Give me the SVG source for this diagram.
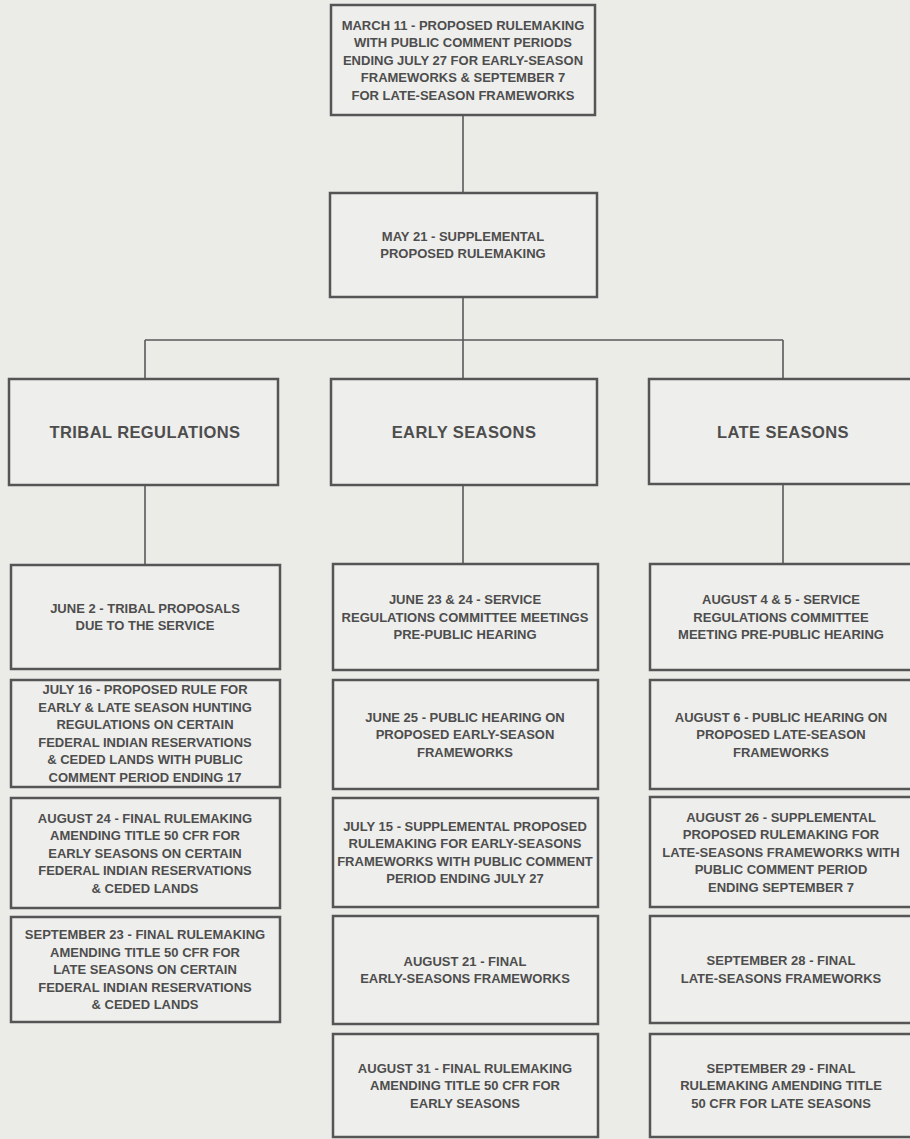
<svg xmlns="http://www.w3.org/2000/svg" width="910" height="1139" viewBox="0 0 910 1139">
<style>
.bg{fill:#ebebe8}
.box{fill:#eeeeec;stroke:#555555;stroke-width:2.5}
.con{fill:none;stroke:#5a5a5a;stroke-width:1.6}
text{font-family:"Liberation Sans",Arial,sans-serif;font-weight:bold;fill:#4d4d4d;text-anchor:middle}
.t{font-size:13px}
.h{font-size:16.5px;letter-spacing:0.4px}
</style>
<rect class="bg" x="0" y="0" width="910" height="1139"/>
<g id="connectors">
<path class="con" d="M463 115V193M463 297V379M145 340H783M145 340V379M783 340V379M145 485V565M463 485V564M783 484V564"/>
</g>
<g id="n-march11">
<rect class="box" x="331" y="5" width="264" height="110"/>
<text class="t"><tspan x="463" y="29.5">MARCH 11 - PROPOSED RULEMAKING</tspan><tspan x="463" y="47">WITH PUBLIC COMMENT PERIODS</tspan><tspan x="463" y="64.5">ENDING JULY 27 FOR EARLY-SEASON</tspan><tspan x="463" y="82">FRAMEWORKS &amp; SEPTEMBER 7</tspan><tspan x="463" y="99.5">FOR LATE-SEASON FRAMEWORKS</tspan></text>
</g>
<g id="n-may21">
<rect class="box" x="330" y="193" width="267" height="104"/>
<text class="t"><tspan x="463" y="240.75">MAY 21 - SUPPLEMENTAL</tspan><tspan x="463" y="258.25">PROPOSED RULEMAKING</tspan></text>
</g>
<g id="h-tribal">
<rect class="box" x="9" y="379" width="269" height="106"/>
<text class="h" x="145" y="438">TRIBAL REGULATIONS</text>
</g>
<g id="h-early">
<rect class="box" x="331" y="379" width="266" height="106"/>
<text class="h" x="464" y="438">EARLY SEASONS</text>
</g>
<g id="h-late">
<rect class="box" x="649" y="379" width="275" height="105"/>
<text class="h" x="783" y="438">LATE SEASONS</text>
</g>
<g id="t1">
<rect class="box" x="11" y="565" width="269" height="104"/>
<text class="t"><tspan x="145" y="612.75">JUNE 2 - TRIBAL PROPOSALS</tspan><tspan x="145" y="630.25">DUE TO THE SERVICE</tspan></text>
</g>
<g id="t2">
<rect class="box" x="11" y="680" width="269" height="107"/>
<text class="t"><tspan x="145" y="694.25">JULY 16 - PROPOSED RULE FOR</tspan><tspan x="145" y="711.75">EARLY &amp; LATE SEASON HUNTING</tspan><tspan x="145" y="729.25">REGULATIONS ON CERTAIN</tspan><tspan x="145" y="746.75">FEDERAL INDIAN RESERVATIONS</tspan><tspan x="145" y="764.25">&amp; CEDED LANDS WITH PUBLIC</tspan><tspan x="145" y="781.75">COMMENT PERIOD ENDING 17</tspan></text>
</g>
<g id="t3">
<rect class="box" x="11" y="798" width="269" height="110"/>
<text class="t"><tspan x="145" y="822.5">AUGUST 24 - FINAL RULEMAKING</tspan><tspan x="145" y="840">AMENDING TITLE 50 CFR FOR</tspan><tspan x="145" y="857.5">EARLY SEASONS ON CERTAIN</tspan><tspan x="145" y="875">FEDERAL INDIAN RESERVATIONS</tspan><tspan x="145" y="892.5">&amp; CEDED LANDS</tspan></text>
</g>
<g id="t4">
<rect class="box" x="11" y="917" width="269" height="105"/>
<text class="t"><tspan x="145" y="939">SEPTEMBER 23 - FINAL RULEMAKING</tspan><tspan x="145" y="956.5">AMENDING TITLE 50 CFR FOR</tspan><tspan x="145" y="974">LATE SEASONS ON CERTAIN</tspan><tspan x="145" y="991.5">FEDERAL INDIAN RESERVATIONS</tspan><tspan x="145" y="1009">&amp; CEDED LANDS</tspan></text>
</g>
<g id="e1">
<rect class="box" x="333" y="564" width="265" height="106"/>
<text class="t"><tspan x="465" y="604">JUNE 23 &amp; 24 - SERVICE</tspan><tspan x="465" y="621.5">REGULATIONS COMMITTEE MEETINGS</tspan><tspan x="465" y="639">PRE-PUBLIC HEARING</tspan></text>
</g>
<g id="e2">
<rect class="box" x="333" y="680" width="265" height="109"/>
<text class="t"><tspan x="465" y="721.5">JUNE 25 - PUBLIC HEARING ON</tspan><tspan x="465" y="739">PROPOSED EARLY-SEASON</tspan><tspan x="465" y="756.5">FRAMEWORKS</tspan></text>
</g>
<g id="e3">
<rect class="box" x="333" y="798" width="265" height="109"/>
<text class="t"><tspan x="465" y="830.75">JULY 15 - SUPPLEMENTAL PROPOSED</tspan><tspan x="465" y="848.25">RULEMAKING FOR EARLY-SEASONS</tspan><tspan x="465" y="865.75">FRAMEWORKS WITH PUBLIC COMMENT</tspan><tspan x="465" y="883.25">PERIOD ENDING JULY 27</tspan></text>
</g>
<g id="e4">
<rect class="box" x="333" y="916" width="265" height="108"/>
<text class="t"><tspan x="465" y="965.75">AUGUST 21 - FINAL</tspan><tspan x="465" y="983.25">EARLY-SEASONS FRAMEWORKS</tspan></text>
</g>
<g id="e5">
<rect class="box" x="333" y="1034" width="265" height="103"/>
<text class="t"><tspan x="465" y="1072.5">AUGUST 31 - FINAL RULEMAKING</tspan><tspan x="465" y="1090">AMENDING TITLE 50 CFR FOR</tspan><tspan x="465" y="1107.5">EARLY SEASONS</tspan></text>
</g>
<g id="l1">
<rect class="box" x="650" y="564" width="275" height="106"/>
<text class="t"><tspan x="781" y="604">AUGUST 4 &amp; 5 - SERVICE</tspan><tspan x="781" y="621.5">REGULATIONS COMMITTEE</tspan><tspan x="781" y="639">MEETING PRE-PUBLIC HEARING</tspan></text>
</g>
<g id="l2">
<rect class="box" x="650" y="680" width="275" height="109"/>
<text class="t"><tspan x="781" y="721.5">AUGUST 6 - PUBLIC HEARING ON</tspan><tspan x="781" y="739">PROPOSED LATE-SEASON</tspan><tspan x="781" y="756.5">FRAMEWORKS</tspan></text>
</g>
<g id="l3">
<rect class="box" x="650" y="797" width="275" height="110"/>
<text class="t"><tspan x="781" y="821.5">AUGUST 26 - SUPPLEMENTAL</tspan><tspan x="781" y="839">PROPOSED RULEMAKING FOR</tspan><tspan x="781" y="856.5">LATE-SEASONS FRAMEWORKS WITH</tspan><tspan x="781" y="874">PUBLIC COMMENT PERIOD</tspan><tspan x="781" y="891.5">ENDING SEPTEMBER 7</tspan></text>
</g>
<g id="l4">
<rect class="box" x="650" y="916" width="275" height="107"/>
<text class="t"><tspan x="781" y="965.25">SEPTEMBER 28 - FINAL</tspan><tspan x="781" y="982.75">LATE-SEASONS FRAMEWORKS</tspan></text>
</g>
<g id="l5">
<rect class="box" x="650" y="1034" width="275" height="103"/>
<text class="t"><tspan x="781" y="1072.5">SEPTEMBER 29 - FINAL</tspan><tspan x="781" y="1090">RULEMAKING AMENDING TITLE</tspan><tspan x="781" y="1107.5">50 CFR FOR LATE SEASONS</tspan></text>
</g>
</svg>
